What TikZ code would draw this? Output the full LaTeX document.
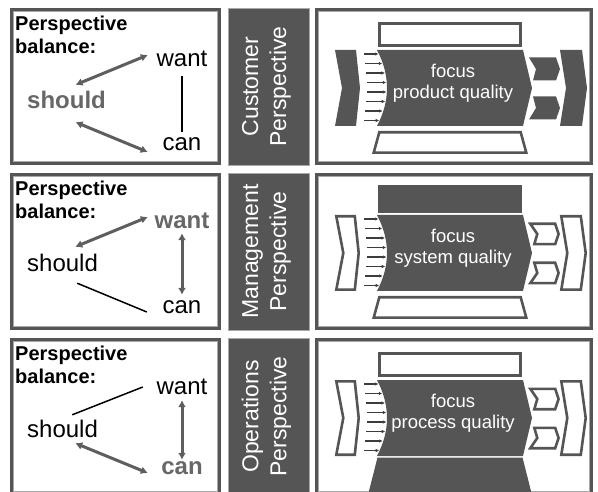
\documentclass[tikz,border=0pt]{standalone}
\usepackage{fontspec}
\setmainfont{Liberation Sans}
\usetikzlibrary{arrows.meta}
\definecolor{dk}{HTML}{555555}
\definecolor{gtxt}{HTML}{676767}
\definecolor{arr}{HTML}{5E5E5E}
\definecolor{lite}{HTML}{A8A8A8}
\definecolor{sarr}{HTML}{3C3C3C}
\begin{document}
\begin{tikzpicture}[x=1pt,y=-1pt,
  frameline/.style={draw=dk,line width=3pt},
  frameinner/.style={draw=lite,line width=0.9pt},
  midbox/.style={fill=dk,draw=lite,line width=0.8pt},
  midtext/.style={rotate=90,align=center,text=white,font=\fontsize{23}{28}\selectfont,inner sep=0pt},
  titletext/.style={anchor=north west,align=left,inner sep=0pt,font=\fontsize{20}{23.5}\selectfont\bfseries},
  word/.style={anchor=base,inner sep=0pt,text height=17pt,text depth=0pt,font=\fontsize{24}{28}\selectfont},
  hot/.style={word,text=gtxt,font=\fontsize{24}{28}\selectfont\bfseries},
  thickarr/.style={draw=arr,line width=3pt,{Latex[length=7pt,width=8pt]}-{Latex[length=7pt,width=8pt]}},
  thinln/.style={draw=black,line width=1.5pt},
  shon/.style={fill=dk},
  shoff/.style={draw=dk,fill=white,line width=2.6pt},
  smallarr/.style={draw=sarr,line width=1.1pt,-{Latex[length=3.5pt,width=3.5pt]}},
  ctext/.style={align=center,text=white,inner sep=0pt,font=\fontsize{18.5}{21}\selectfont},
]
\useasboundingbox (0,0) rectangle (598,492);
\clip (0,0) rectangle (598,492);

% ================= LEFT BOXES =================
% Row 1
\draw[frameline] (11.5,9.5) rectangle (219.5,163.5);
\draw[frameinner] (13.5,11.5) rectangle (217.5,161.5);
\node[titletext] (p1) at (15,15.5) {Perspective\\balance:};
\node[hot,anchor=base west] (s1) at (27,109) {should};
\node[word] (w1) at (182,67) {want};
\node[word] (c1) at (182,151) {can};
\draw[thickarr] ([shift={(9,-7)}]s1.north) -- ([shift={(-8.6,-3.5)}]w1.west);
\draw[thickarr] ([shift={(9,13)}]s1.south) -- ([shift={(-14.7,9.5)}]c1.west);
\draw[thinln] ([shift={(0,9)}]w1.south) -- ([shift={(0,-2)}]c1.north);

% Row 2
\begin{scope}[shift={(0,165)}]
\draw[frameline] (11.5,9.5) rectangle (219.5,163.5);
\draw[frameinner] (13.5,11.5) rectangle (217.5,161.5);
\node[titletext] (p2) at (15,15.5) {Perspective\\balance:};
\node[word,anchor=base west] (s2) at (27,107) {should};
\node[hot] (w2) at (182,64) {want};
\node[word] (c2) at (182,148) {can};
\draw[thickarr] ([shift={(12.65,-8)}]s2.north) -- ([shift={(-6.65,-3.5)}]w2.west);
\draw[thinln] ([shift={(14.65,11)}]s2.south) -- ([shift={(-15.65,7.5)}]c2.west);
\draw[thickarr] ([shift={(0,4)}]w2.south) -- ([shift={(0,-1)}]c2.north);
\end{scope}

% Row 3
\begin{scope}[shift={(0,330)}]
\draw[frameline] (11.5,9.5) rectangle (219.5,163.5);
\draw[frameinner] (13.5,11.5) rectangle (217.5,161.5);
\node[titletext] (p3) at (15,15.5) {Perspective\\balance:};
\node[word,anchor=base west] (s3) at (27,107) {should};
\node[word] (w3) at (182,65) {want};
\node[hot] (c3) at (182,144) {can};
\draw[thinln] ([shift={(9.65,-5)}]s3.north) -- ([shift={(-13.65,0.5)}]w3.west);
\draw[thickarr] ([shift={(12.65,6)}]s3.south) -- ([shift={(-13.3,7.5)}]c3.west);
\draw[thickarr] ([shift={(0,5)}]w3.south) -- ([shift={(0,3)}]c3.north);
\end{scope}

% ================= MIDDLE BOXES =================
\filldraw[midbox] (228,8) rectangle (309,165);
\node[midtext] (m1) at (266.5,86.5) {Customer\\Perspective};
\filldraw[midbox] (228,173) rectangle (309,330);
\node[midtext] (m2) at (266.5,251.5) {Management\\Perspective};
\filldraw[midbox] (228,338) rectangle (309,495);
\node[midtext] (m3) at (266.5,416.5) {Operations\\Perspective};

% ================= RIGHT PANELS =================
% Row 1
\begin{scope}[shift={(310,0)}]
\draw[frameline] (6.5,9.5) rectangle (281.5,163.5);
\draw[frameinner] (8.5,11.5) rectangle (279.5,161.5);
\fill[shon] (25,50) -- (46,50) -- (50,88) -- (46,126) -- (25,126) -- (32,88) -- cycle;
\draw[shoff] (69.3,23.3) rectangle (210.7,45.7);
\fill[shon] (67,50) -- (213,50) -- (222,88) -- (213,126) -- (67,126) .. controls (80.33,100.67) and (80.33,75.33) .. (67,50) -- cycle;
\draw[shoff] (69.3,132.3) -- (210.7,132.3) -- (216.3,152.7) -- (63.7,152.7) -- cycle;
\fill[shon] (219,57.5) -- (246,57.5) -- (250,69) -- (246,80.5) -- (223,80.5) -- (226,69) -- cycle;
\fill[shon] (223,96.5) -- (246,96.5) -- (250,108) -- (246,119.5) -- (219,119.5) -- (226,108) -- cycle;
\fill[shon] (250,50) -- (272,50) -- (277,88) -- (272,126) -- (250,126) -- (256,88) -- cycle;
\foreach \yy/\xs/\xe in {54/54/69, 63.5/55/72.8, 73/56/75.4, 82.5/56.5/76.8, 92/56.5/76.9, 101.5/56/75.7, 111/55/73.3, 120.5/54/69.7}
  \draw[smallarr] (\xs,\yy) -- (\xe-0.5,\yy);
\node[ctext] (f1) at (143,83.7) {focus\\product quality};
\end{scope}

% Row 2
\begin{scope}[shift={(310,165)}]
\draw[frameline] (6.5,9.5) rectangle (281.5,163.5);
\draw[frameinner] (8.5,11.5) rectangle (279.5,161.5);
\draw[shoff] (26.3,51.3) -- (44.8,51.3) -- (48.7,88) -- (44.8,124.7) -- (26.3,124.7) -- (33.3,88) -- cycle;
\fill[shon] (68,20) rectangle (212,48.5);
\fill[shon] (67,50) -- (213,50) -- (222,88) -- (213,126) -- (67,126) .. controls (80.33,100.67) and (80.33,75.33) .. (67,50) -- cycle;
\draw[shoff] (69.3,132.3) -- (210.7,132.3) -- (216.3,152.7) -- (63.7,152.7) -- cycle;
\draw[shoff] (220.3,58.8) -- (245.2,58.8) -- (248.6,69) -- (245.2,79.2) -- (224.3,79.2) -- (227.3,69) -- cycle;
\draw[shoff] (224.3,97.8) -- (245.2,97.8) -- (248.6,108) -- (245.2,118.2) -- (220.3,118.2) -- (227.3,108) -- cycle;
\draw[shoff] (251.3,51.3) -- (270.8,51.3) -- (275.7,88) -- (270.8,124.7) -- (251.3,124.7) -- (257.3,88) -- cycle;
\foreach \yy/\xs/\xe in {54/54/69, 63.5/55/72.8, 73/56/75.4, 82.5/56.5/76.8, 92/56.5/76.9, 101.5/56/75.7, 111/55/73.3, 120.5/54/69.7}
  \draw[smallarr] (\xs,\yy) -- (\xe-0.5,\yy);
\node[ctext] (f2) at (143,83.7) {focus\\system quality};
\end{scope}

% Row 3
\begin{scope}[shift={(310,330)}]
\draw[frameline] (6.5,9.5) rectangle (281.5,165.5);
\draw[frameinner] (8.5,11.5) rectangle (279.5,161.5);
\draw[shoff] (26.3,51.3) -- (44.8,51.3) -- (48.7,88) -- (44.8,124.7) -- (26.3,124.7) -- (33.3,88) -- cycle;
\draw[shoff] (69.3,23.3) rectangle (210.7,45.7);
\fill[shon] (67,50) -- (213,50) -- (222,88) -- (213,126) -- (67,126) .. controls (80.33,100.67) and (80.33,75.33) .. (67,50) -- cycle;
\fill[shon] (67.5,127.5) -- (212.5,127.5) -- (222,165) -- (58,165) -- cycle;
\draw[shoff] (220.3,58.8) -- (245.2,58.8) -- (248.6,69) -- (245.2,79.2) -- (224.3,79.2) -- (227.3,69) -- cycle;
\draw[shoff] (224.3,97.8) -- (245.2,97.8) -- (248.6,108) -- (245.2,118.2) -- (220.3,118.2) -- (227.3,108) -- cycle;
\draw[shoff] (251.3,51.3) -- (270.8,51.3) -- (275.7,88) -- (270.8,124.7) -- (251.3,124.7) -- (257.3,88) -- cycle;
\foreach \yy/\xs/\xe in {54/54/69, 63.5/55/72.8, 73/56/75.4, 82.5/56.5/76.8, 92/56.5/76.9, 101.5/56/75.7, 111/55/73.3, 120.5/54/69.7}
  \draw[smallarr] (\xs,\yy) -- (\xe-0.5,\yy);
\node[ctext] (f3) at (143,83.7) {focus\\process quality};
\end{scope}
\end{tikzpicture}
\end{document}
